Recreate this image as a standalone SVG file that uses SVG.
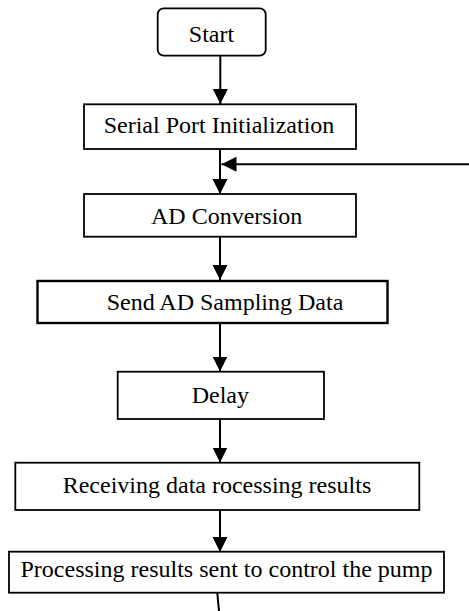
<svg xmlns="http://www.w3.org/2000/svg" width="469" height="611" viewBox="0 0 469 611">
<style>
.box{fill:#fff;stroke:#000;stroke-width:1.8}
.thick{stroke-width:2.4}
.lbl{font-size:24px;fill:#000;text-anchor:middle}
.conn{stroke:#000;stroke-width:2;fill:none}
</style>
<defs>
<marker id="arr" markerUnits="userSpaceOnUse" markerWidth="16" markerHeight="16" refX="15" refY="7.5" orient="auto">
<path d="M0,0 L15,7.5 L0,15 z" fill="#000"/>
</marker>
</defs>
<rect x="0" y="0" width="469" height="611" fill="#fff"/>
<g id="connectors">
<line class="conn" x1="220.3" y1="56" x2="220.3" y2="104" marker-end="url(#arr)"/>
<line class="conn" x1="220" y1="149" x2="220" y2="194" marker-end="url(#arr)"/>
<line class="conn" x1="469" y1="164.3" x2="221.5" y2="164.3" marker-end="url(#arr)"/>
<line class="conn" x1="220" y1="237" x2="220" y2="280" marker-end="url(#arr)"/>
<line class="conn" x1="220" y1="323" x2="220" y2="371.5" marker-end="url(#arr)"/>
<line class="conn" x1="220" y1="419" x2="220" y2="462.5" marker-end="url(#arr)"/>
<line class="conn" x1="220" y1="510" x2="220" y2="552" marker-end="url(#arr)"/>
<line class="conn" x1="217.3" y1="593" x2="219" y2="611"/>
</g>
<g font-family="Liberation Serif, Tinos, Times New Roman, DejaVu Serif, serif">
<g id="start">
<rect class="box" x="157.7" y="8.3" width="108" height="47.4" rx="6"/>
<text class="lbl" x="211.5" y="42.3">Start</text>
</g>
<g id="serial">
<rect class="box" x="84" y="104.3" width="272" height="44.7"/>
<text class="lbl" x="219" y="133.3">Serial Port Initialization</text>
</g>
<g id="adconv">
<rect class="box" x="84" y="194" width="272" height="42.7"/>
<text class="lbl" x="226.7" y="224.3">AD Conversion</text>
</g>
<g id="send">
<rect class="box thick" x="37.5" y="281" width="350" height="42"/>
<text class="lbl" x="225" y="310">Send AD Sampling Data</text>
</g>
<g id="delay">
<rect class="box" x="117.7" y="371.7" width="206.3" height="47.3"/>
<text class="lbl" x="220.3" y="403.3">Delay</text>
</g>
<g id="receiving">
<rect class="box" x="15.3" y="462.7" width="404" height="47.3"/>
<text class="lbl" x="217" y="493.3">Receiving data rocessing results</text>
</g>
<g id="processing">
<rect class="box" x="9" y="551.7" width="435" height="41"/>
<text class="lbl" x="226.5" y="577">Processing results sent to control the pump</text>
</g>
</g>
</svg>
